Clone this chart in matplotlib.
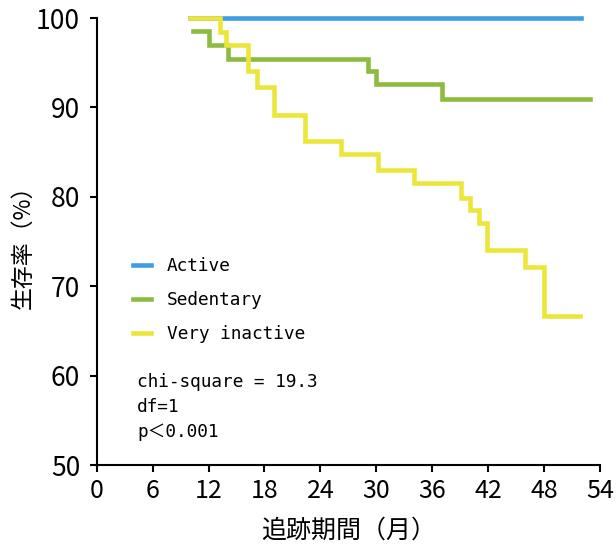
import matplotlib
matplotlib.use('Agg')
import matplotlib.pyplot as plt

# 追跡期間 (月) と 生存率 (%)
active_t = [10.0, 52.0]
active_s = [100.0, 100.0]

sedentary_t = [10.3, 12.0, 14.1, 29.1, 30.0, 37.1, 52.9]
sedentary_s = [98.6, 97.0, 95.4, 94.1, 92.6, 91.0, 91.0]

inactive_t = [10.0, 13.2, 13.9, 16.2, 17.2, 19.0, 22.3, 26.2, 30.2, 34.0,
              39.1, 40.1, 41.0, 41.9, 46.0, 48.0, 51.9]
inactive_s = [100.0, 98.4, 97.0, 94.1, 92.3, 89.2, 86.3, 84.8, 83.0, 81.6,
              79.9, 78.5, 77.1, 74.1, 72.1, 66.7, 66.7]

xticks = [0, 6, 12, 18, 24, 30, 36, 42, 48, 54]
yticks = [50, 60, 70, 80, 90, 100]
stats = ['chi-square = 19.3', 'df=1', 'p＜0.001']

plt.rcParams['font.family'] = ['Liberation Sans Narrow', 'Noto Sans CJK JP', 'DejaVu Sans']

fig = plt.figure(figsize=(6.16, 5.49), dpi=100)
ax = fig.add_axes([0.157, 0.153, 0.817, 0.814])

ax.step(active_t, active_s, where='post', color='#3f9de0', lw=3.3,
        label='Active', clip_on=False, solid_joinstyle='miter')
ax.step(sedentary_t, sedentary_s, where='post', color='#8cbb3f', lw=3.3,
        label='Sedentary', clip_on=False, solid_joinstyle='miter')
ax.step(inactive_t, inactive_s, where='post', color='#ece63a', lw=3.3,
        label='Very inactive', clip_on=False, solid_joinstyle='miter')

ax.set_xlim(0, 54)
ax.set_ylim(50, 100)
ax.set_xticks(xticks)
ax.set_yticks(yticks)
ax.tick_params(axis='x', labelsize=18, length=5, width=1.5, pad=4)
ax.tick_params(axis='y', labelsize=19, length=5, width=1.5, pad=7)

for s in ['top', 'right']:
    ax.spines[s].set_visible(False)
for s in ['left', 'bottom']:
    ax.spines[s].set_linewidth(1.5)

ax.set_xlabel('追跡期間（月）', fontsize=18, family=['Noto Sans CJK JP'], labelpad=10)
ax.set_ylabel('生存率（%）', fontsize=16.5, family=['Noto Sans CJK JP'], labelpad=1)

ax.legend(loc='upper left', bbox_to_anchor=(0.072, 0.465), frameon=False,
          borderaxespad=0, borderpad=0, handlelength=1.0, handletextpad=0.9,
          labelspacing=0.9, prop={'family': 'DejaVu Sans Mono', 'size': 12.8})

ys = [0.186, 0.130, 0.074]
for txt, yy in zip(stats, ys):
    ax.text(0.080, yy, txt, transform=ax.transAxes, va='center', ha='left',
            fontsize=12.8, family=['DejaVu Sans Mono', 'Noto Sans CJK JP'])

fig.savefig('out.png', dpi=100)
